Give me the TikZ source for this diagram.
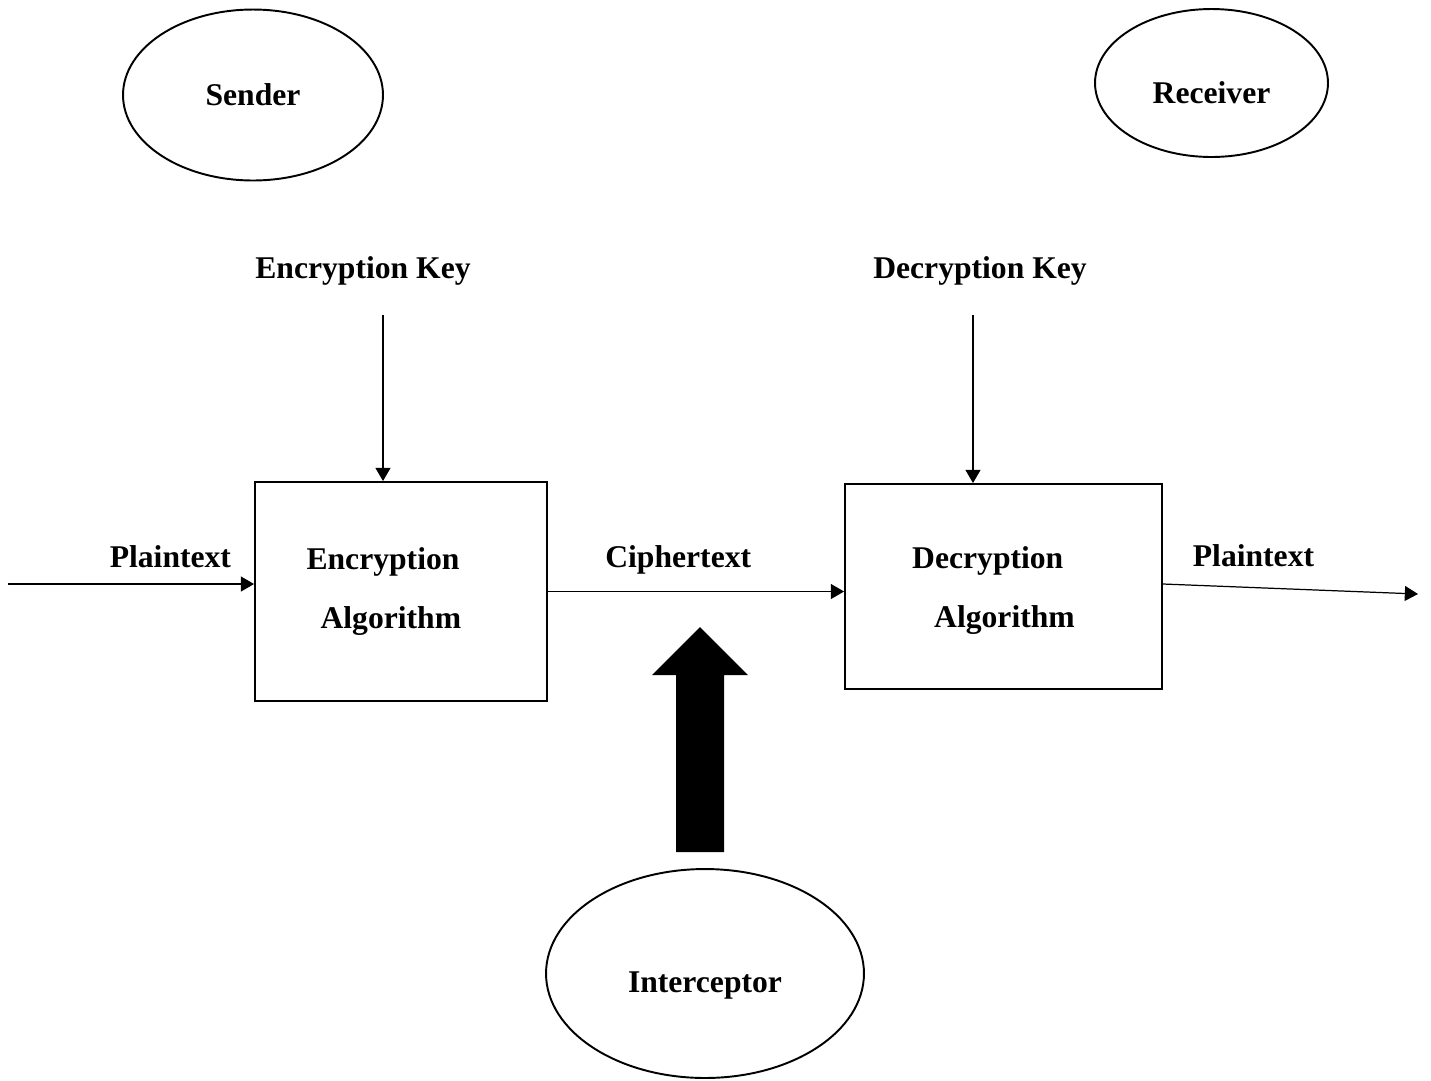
\documentclass[tikz,border=0pt]{standalone}
\usepackage{fontspec}
\setmainfont{Liberation Serif}
\usetikzlibrary{positioning,arrows.meta,shapes.geometric}

\begin{document}
\begin{tikzpicture}[
  x=0.02cm, y=-0.02cm,
  font=\bfseries\fontsize{18}{21.6}\selectfont,
  box/.style={draw, line width=1.1pt, inner sep=0pt, align=left},
  party/.style={draw, ellipse, line width=1.1pt, inner sep=0pt},
  flow/.style={->, line width=0.7pt},
  >={Triangle[length=7.5pt, width=8.5pt]}
]
\useasboundingbox (0,0) rectangle (1431,1080);
% parties
\node[party, minimum width=5.2cm, minimum height=3.42cm] (sender) at (253,95) {Sender};
\node[party, minimum width=4.66cm, minimum height=2.96cm, text height=23.5pt, text depth=0pt] (receiver) at (1211.5,83) {Receiver};
\node[party, minimum width=6.36cm, minimum height=4.18cm, text height=21.6pt, text depth=0pt] (intercept) at (705,973.5) {Interceptor};
% keys
\node (enckey) at (363,271) {Encryption Key};
\node (deckey) at (980,271) {Decryption Key};
\coordinate (enckeyend) at (383,315);
\coordinate (deckeyend) at (973,315);
% algorithms
\node[box, minimum width=5.84cm, minimum height=4.38cm] (enc) at (401,591.5) {Encryption\hspace*{0.72cm}\\[12.5pt]\hspace*{0.28cm}Algorithm};
\node[box, minimum width=6.34cm, minimum height=4.1cm] (dec) at (1003.5,586.5) {\rule{0pt}{17pt}Decryption\\[12.5pt]\hspace*{0.44cm}Algorithm\hspace*{0.4cm}};
\coordinate (ptin) at (8,584);
\coordinate (ptout) at (1418,594);
\draw[flow] (enckeyend) -- (enckeyend |- enc.north);
\draw[flow] (deckeyend) -- (deckeyend |- dec.north);
\draw[flow] (ptin) -- (enc.west |- ptin) node[pos=0.66, above=5.5pt] {Plaintext};
\draw[flow] (enc.east) -- (dec.west |- enc.east) node[pos=0.44, above=6pt] {Ciphertext};
\draw[flow] ([yshift=0.05cm]dec.east) -- (ptout) node[pos=0.355, above=8pt] {Plaintext};
% interception
\fill (676,852) -- (676,675) -- (652,675) -- (700,627) -- (748,675) -- (724,675) -- (724,852) -- cycle;
\end{tikzpicture}
\end{document}
